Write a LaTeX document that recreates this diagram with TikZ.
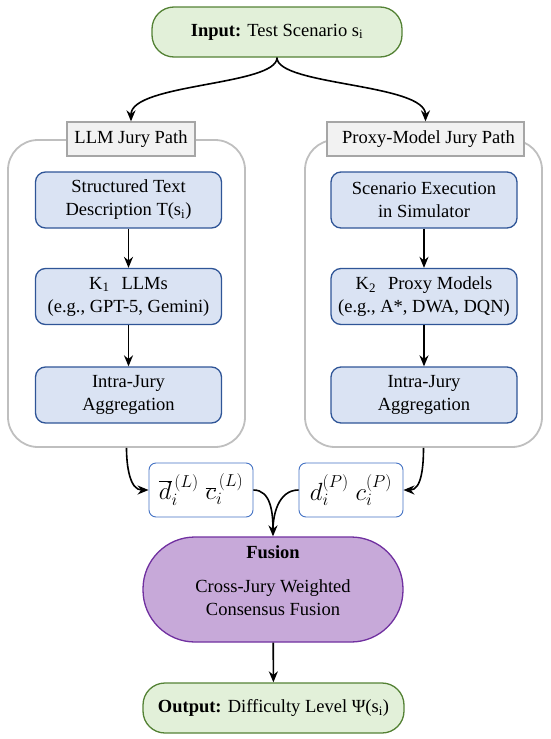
\documentclass[tikz,border=0pt]{standalone}
\usepackage{fontspec}
\setmainfont{Liberation Serif}
\usetikzlibrary{arrows.meta,positioning,calc}

\definecolor{inpfill}{HTML}{E2F0D9}
\definecolor{inpdraw}{HTML}{548235}
\definecolor{boxfill}{HTML}{DAE3F3}
\definecolor{boxdraw}{HTML}{2F5597}
\definecolor{valdraw}{HTML}{4472C4}
\definecolor{fusfill}{HTML}{C7A9D9}
\definecolor{fusdraw}{HTML}{7030A0}
\definecolor{hdrfill}{HTML}{F2F2F2}
\definecolor{hdrdraw}{HTML}{A6A6A6}
\definecolor{pathdraw}{HTML}{BFBFBF}

\begin{document}
\begin{tikzpicture}[x=1pt,y=-1pt,font=\fontsize{18.5}{23}\selectfont,
  >={Stealth[length=11pt,width=9pt]},
  io/.style={draw=inpdraw,fill=inpfill,line width=1.3pt,rounded corners=22pt,
    minimum width=250pt,minimum height=50pt,inner sep=0pt},
  pathbox/.style={draw=pathdraw,line width=1.8pt,rounded corners=30pt,
    minimum width=237pt,minimum height=307pt,inner sep=0pt},
  hdr/.style={draw=hdrdraw,fill=hdrfill,line width=1.3pt,
    minimum height=34pt,inner sep=0pt},
  stage/.style={draw=boxdraw,fill=boxfill,line width=1.3pt,rounded corners=10pt,
    align=center,minimum width=186pt,minimum height=56pt,inner sep=0pt},
  val/.style={draw=valdraw,fill=white,line width=0.9pt,rounded corners=7pt,
    minimum width=104pt,minimum height=54pt,inner sep=0pt},
  flow/.style={->,line width=1.6pt},
]
\useasboundingbox (0,0) rectangle (550,739);

\node[io] (inp) at (277,32) {\textbf{Input:} Test Scenario s\textsubscript{i}};

% the two jury paths
\node[pathbox] (llmbox) at (126.5,293.5) {};
\node[pathbox] (pxybox) at (423.5,293.5) {};
\node[hdr,minimum width=128pt] (llmhdr) at (131,139) {LLM Jury Path};
\node[hdr,minimum width=197pt] (pxyhdr) at (425.5,139) {\hspace{6pt}Proxy-Model Jury Path};

\node[stage] (desc) at (128.5,200) {Structured Text\\Description T(s\textsubscript{i})};
\node[stage] (llms) at (128.5,296.5) {K\textsubscript{1}\hspace{12pt}LLMs\\(e.g., GPT-5, Gemini)};
\node[stage] (aggl) at (128.5,395) {Intra-Jury\\Aggregation};

\node[stage] (exec) at (424,200) {Scenario Execution\\in Simulator};
\node[stage] (pxym) at (424,296.5) {K\textsubscript{2}\hspace{12pt}Proxy Models\\(e.g., A*, DWA, DQN)};
\node[stage] (aggp) at (424,395) {Intra-Jury\\Aggregation};

\draw[flow] (inp.south) .. controls +(0,28) and +(0,-38) .. (llmhdr.north);
\draw[flow] (inp.south) .. controls +(0,28) and +(0,-38) .. (pxyhdr.north);

\draw[flow] (desc) -- (llms);
\draw[flow] (llms) -- (aggl);
\draw[flow] (exec) -- (pxym);
\draw[flow] (pxym) -- (aggp);

% jury outputs
\node[val] (vall) at (201,490) {\fontsize{24}{26}\selectfont$\overline{d}_i^{\,(L)}\;\overline{c}_i^{\,(L)}$};
\node[val] (valp) at (351,490) {\fontsize{24}{26}\selectfont$d_i^{(P)}\;c_i^{(P)}$};

\draw[flow] (llmbox.south) to[out=-90,in=180] (vall.west);
\draw[flow] (pxybox.south) to[out=-90,in=0] (valp.east);

\node[draw=fusdraw,fill=fusfill,line width=1.3pt,rounded corners=52pt,
  minimum width=260pt,minimum height=105pt,inner sep=0pt] (fus) at (273,589.5) {};
\node[align=center] (fustxt) at (273,581) {\textbf{Fusion}\\[11pt]Cross-Jury Weighted\\Consensus Fusion};

\draw[line width=1.6pt] (vall.east) to[out=0,in=90] ($(fus.north)+(0,-6)$);
\draw[flow] (valp.west) to[out=180,in=90] (fus.north);

\node[io,minimum width=261pt] (outp) at (273.5,708) {\textbf{Output:} Difficulty Level \char"03A8(s\textsubscript{i})};
\draw[flow] (fus) -- (outp);

\end{tikzpicture}
\end{document}
